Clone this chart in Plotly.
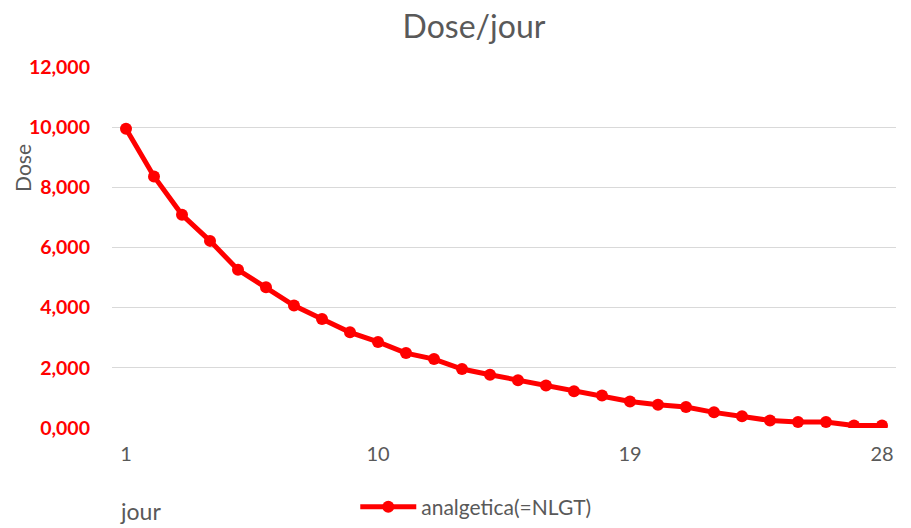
import plotly.graph_objects as go

days = list(range(1, 29))
dose = [9.95, 8.36, 7.09, 6.22, 5.26, 4.68, 4.07, 3.62, 3.18, 2.86,
        2.49, 2.29, 1.96, 1.77, 1.59, 1.41, 1.22, 1.08, 0.88, 0.77,
        0.70, 0.52, 0.39, 0.25, 0.20, 0.20, 0.08, 0.08]
series_name = "analgetica(=NLGT)"
x_ticks = [1, 10, 19, 28]
y_ticks = [0, 2, 4, 6, 8, 10, 12]

FONT = "Lato, 'Open Sans', sans-serif"
GREY = "#595959"
RED = "#FF0000"

fig = go.Figure()
fig.add_trace(go.Scatter(
    x=days, y=dose, name=series_name, mode="lines+markers",
    line=dict(color=RED, width=5),
    marker=dict(color=RED, size=12),
))

fig.update_layout(
    width=911, height=528,
    margin=dict(l=112, r=15, t=67, b=100, autoexpand=False),
    paper_bgcolor="white", plot_bgcolor="white",
    separators=",.",
    font=dict(family=FONT, color=GREY),
    title=dict(text="Dose/jour", x=474/911, xanchor="center", y=1 - 27/528, yanchor="middle",
               font=dict(size=32, color=GREY, family=FONT)),
    showlegend=True,
    legend=dict(x=0.464, xanchor="center", y=-0.219, yanchor="middle",
                orientation="h", font=dict(size=21, color=GREY, family=FONT),
                itemwidth=56),
    xaxis=dict(range=[0.5, 28.5], tickvals=x_ticks, ticktext=[str(v) for v in x_ticks],
               showgrid=False, zeroline=False, showline=False, ticks="",
               tickfont=dict(size=20, color=GREY), ticklabelstandoff=12,
               automargin=False),
    yaxis=dict(range=[0, 12], tickvals=y_ticks, tickformat=".3f",
               showgrid=True, gridcolor="#D9D9D9", gridwidth=1.3,
               zeroline=False, showline=False, ticks="",
               tickfont=dict(size=19.5, color=RED, family=FONT, weight="bold"),
               ticklabelstandoff=21, automargin=False),
    annotations=[
        dict(text="Dose", xref="paper", yref="paper", x=-0.115, y=0.72,
             xanchor="center", yanchor="middle", textangle=-90, showarrow=False,
             font=dict(size=21, color=GREY, family=FONT)),
        dict(text="jour", xref="paper", yref="paper", x=0.036, y=-0.23,
             xanchor="center", yanchor="middle", showarrow=False,
             font=dict(size=23, color=GREY, family=FONT)),
    ],
)

fig.write_html("out.html", config={"displayModeBar": False},
               post_script="document.body.style.margin='0';")
